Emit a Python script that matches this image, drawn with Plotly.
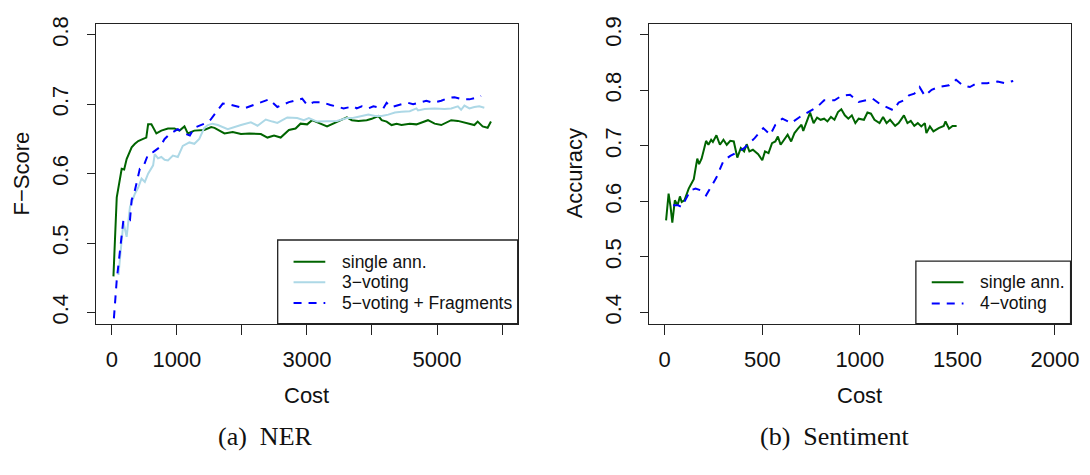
import plotly.graph_objects as go

# ---------------- data ----------------
# (a) NER: F-score against annotation cost
ner_single_cost = [25, 76, 152, 190, 228, 305, 355, 406, 482, 530, 558, 609, 685, 761, 863, 964,
                   1041, 1117, 1168, 1269, 1421, 1528, 1579, 1732, 1859, 1986, 2113, 2291, 2393,
                   2494, 2596, 2723, 2825, 2901, 3003, 3079, 3309, 3461, 3614, 3690, 3792, 3919,
                   3996, 4098, 4149, 4225, 4301, 4378, 4454, 4581, 4683, 4861, 4963, 5065, 5218,
                   5320, 5472, 5574, 5625, 5701, 5778, 5829]
ner_single_f = [0.452, 0.566, 0.607, 0.606, 0.621, 0.638, 0.643, 0.647, 0.650, 0.652, 0.671, 0.671,
                0.658, 0.662, 0.665, 0.665, 0.662, 0.668, 0.658, 0.662, 0.663, 0.667, 0.666, 0.658,
                0.660, 0.657, 0.658, 0.657, 0.652, 0.655, 0.652, 0.663, 0.665, 0.672, 0.671, 0.677,
                0.668, 0.675, 0.681, 0.677, 0.676, 0.677, 0.679, 0.683, 0.677, 0.675, 0.670, 0.672,
                0.670, 0.672, 0.671, 0.677, 0.672, 0.670, 0.677, 0.676, 0.672, 0.670, 0.675, 0.668,
                0.666, 0.675]

ner_vote3_cost = [102, 178, 228, 279, 355, 406, 457, 508, 558, 635, 660, 710, 761, 812, 863, 939,
                  1015, 1091, 1193, 1269, 1345, 1421, 1477, 1548, 1630, 1782, 1986, 2138, 2240,
                  2367, 2469, 2545, 2698, 2850, 2952, 3029, 3156, 3309, 3461, 3614, 3690, 3792,
                  3945, 4047, 4149, 4250, 4352, 4454, 4581, 4683, 4708, 4810, 4963, 5116, 5218,
                  5320, 5370, 5421, 5498, 5574, 5650, 5727]
ner_vote3_f = [0.454, 0.530, 0.509, 0.552, 0.571, 0.580, 0.593, 0.588, 0.600, 0.612, 0.628, 0.622,
               0.624, 0.620, 0.619, 0.626, 0.624, 0.640, 0.645, 0.643, 0.650, 0.666, 0.670, 0.672,
               0.670, 0.664, 0.670, 0.674, 0.669, 0.678, 0.675, 0.673, 0.681, 0.680, 0.677, 0.680,
               0.675, 0.675, 0.676, 0.680, 0.680, 0.682, 0.685, 0.683, 0.683, 0.685, 0.688, 0.689,
               0.690, 0.694, 0.691, 0.693, 0.694, 0.693, 0.694, 0.697, 0.692, 0.698, 0.694, 0.696,
               0.697, 0.695]

ner_vote5_cost = [15, 76, 178, 279, 305, 355, 431, 482, 558, 635, 736, 812, 888, 1015, 1142, 1200,
                  1269, 1421, 1520, 1600, 1706, 1833, 2037, 2240, 2418, 2545, 2723, 2927, 3003,
                  3105, 3232, 3360, 3563, 3716, 3766, 3843, 3945, 4021, 4174, 4225, 4301, 4454,
                  4556, 4632, 4836, 4938, 5065, 5167, 5269, 5396, 5498, 5625, 5676]
ner_vote5_f = [0.370, 0.447, 0.533, 0.533, 0.562, 0.576, 0.607, 0.609, 0.628, 0.631, 0.638, 0.650,
               0.657, 0.664, 0.657, 0.655, 0.666, 0.672, 0.678, 0.688, 0.701, 0.699, 0.694, 0.701,
               0.707, 0.696, 0.703, 0.708, 0.699, 0.703, 0.703, 0.699, 0.694, 0.697, 0.694, 0.697,
               0.694, 0.697, 0.694, 0.702, 0.696, 0.700, 0.702, 0.700, 0.705, 0.702, 0.705, 0.709,
               0.710, 0.707, 0.707, 0.710, 0.712]

# (b) Sentiment: accuracy against annotation cost
sent_single_cost = [7, 20, 30, 39, 52, 66, 78, 87, 101, 110, 123, 135, 149, 162, 167, 176, 189, 203,
                    212, 224, 238, 247, 265, 283, 301, 318, 336, 354, 372, 390, 407, 420, 434, 452,
                    479, 500, 514, 532, 550, 567, 580, 594, 612, 630, 648, 665, 683, 701, 710, 728,
                    745, 763, 781, 799, 817, 834, 852, 870, 888, 905, 923, 941, 959, 977, 994, 1021,
                    1039, 1057, 1075, 1101, 1119, 1137, 1155, 1181, 1199, 1226, 1244, 1261, 1279,
                    1297, 1315, 1333, 1341, 1359, 1377, 1404, 1430, 1439, 1457, 1475, 1496]
sent_single_acc = [0.566, 0.614, 0.590, 0.562, 0.602, 0.593, 0.609, 0.599, 0.602, 0.611, 0.623,
                   0.631, 0.640, 0.667, 0.677, 0.667, 0.677, 0.696, 0.709, 0.702, 0.711, 0.707,
                   0.719, 0.702, 0.711, 0.702, 0.709, 0.708, 0.679, 0.696, 0.690, 0.703, 0.690,
                   0.693, 0.685, 0.674, 0.690, 0.687, 0.705, 0.708, 0.717, 0.702, 0.711, 0.720,
                   0.708, 0.723, 0.731, 0.738, 0.727, 0.744, 0.760, 0.741, 0.751, 0.747, 0.749,
                   0.744, 0.752, 0.747, 0.761, 0.766, 0.755, 0.749, 0.755, 0.741, 0.749, 0.747,
                   0.760, 0.758, 0.747, 0.741, 0.752, 0.741, 0.747, 0.736, 0.741, 0.755, 0.741,
                   0.745, 0.736, 0.741, 0.735, 0.741, 0.723, 0.735, 0.726, 0.732, 0.736, 0.744,
                   0.731, 0.736, 0.736]

sent_vote4_cost = [43, 69, 87, 105, 132, 158, 185, 212, 238, 265, 301, 336, 363, 407, 461, 505, 541,
                   567, 603, 648, 692, 745, 781, 817, 870, 905, 950, 994, 1030, 1066, 1101, 1137,
                   1172, 1199, 1226, 1252, 1279, 1306, 1333, 1368, 1404, 1457, 1493, 1528, 1564,
                   1599, 1653, 1706, 1742, 1786]
sent_vote4_acc = [0.593, 0.593, 0.590, 0.602, 0.620, 0.623, 0.620, 0.611, 0.628, 0.643, 0.673,
                  0.682, 0.687, 0.696, 0.714, 0.732, 0.720, 0.738, 0.749, 0.741, 0.752, 0.762,
                  0.770, 0.782, 0.782, 0.790, 0.792, 0.779, 0.782, 0.785, 0.776, 0.770, 0.764,
                  0.778, 0.782, 0.791, 0.794, 0.806, 0.790, 0.801, 0.806, 0.809, 0.819, 0.809,
                  0.806, 0.813, 0.813, 0.816, 0.813, 0.817]

ner_x_ticks = [0, 1000, 2000, 3000, 4000, 5000, 6000]
ner_x_labels = ["0", "1000", "", "3000", "", "5000", ""]
ner_y_ticks = [0.4, 0.5, 0.6, 0.7, 0.8]
sent_x_ticks = [0, 500, 1000, 1500, 2000]
sent_y_ticks = [0.4, 0.5, 0.6, 0.7, 0.8, 0.9]

ner_names = ["single ann.", "3\u2212voting", "5\u2212voting + Fragments"]
sent_names = ["single ann.", "4\u2212voting"]

# ---------------- styling ----------------
W, H = 1090, 475
GREEN, LIGHT, BLUE = "#006400", "#ADD8E6", "#0000FF"
SANS = "Liberation Sans, Arial, sans-serif"
SERIF = "Liberation Serif, Times New Roman, serif"
DASH = "8px,7px"


def fx(px):
    return px / W


def fy(py):
    return 1 - py / H


# panel boxes in pixels: (left, right, top, bottom)
BOX_A = (97, 522, 17, 322)
BOX_B = (654.5, 1079.5, 17, 322)

fig = go.Figure()

ner_series = [(ner_single_cost, ner_single_f, GREEN, "solid"),
              (ner_vote3_cost, ner_vote3_f, LIGHT, "solid"),
              (ner_vote5_cost, ner_vote5_f, BLUE, DASH)]
for (xs, ys, col, dash), name in zip(ner_series, ner_names):
    fig.add_trace(go.Scatter(x=xs, y=ys, mode="lines", name=name, showlegend=False,
                             line=dict(color=col, width=2, dash=dash),
                             xaxis="x", yaxis="y"))

sent_series = [(sent_single_cost, sent_single_acc, GREEN, "solid"),
               (sent_vote4_cost, sent_vote4_acc, BLUE, DASH)]
for (xs, ys, col, dash), name in zip(sent_series, sent_names):
    fig.add_trace(go.Scatter(x=xs, y=ys, mode="lines", name=name, showlegend=False,
                             line=dict(color=col, width=2, dash=dash),
                             xaxis="x2", yaxis="y2"))


def xaxis_cfg(box, rng, ticks, labels):
    return dict(domain=[fx(box[0]), fx(box[1])], range=rng, tickvals=ticks, ticktext=labels,
                ticks="outside", ticklen=10, tickwidth=1, tickcolor="#222",
                showline=True, mirror=True, linecolor="#222", linewidth=1.3,
                showgrid=False, zeroline=False, fixedrange=True,
                tickfont=dict(family=SANS, size=22, color="#111"), ticklabelstandoff=6)


def yaxis_cfg(box, rng, ticks):
    return dict(domain=[fy(box[3]), fy(box[2])], range=rng, tickvals=ticks,
                ticktext=[f"{t:.1f}" for t in ticks], tickangle=-90,
                ticks="outside", ticklen=8, tickwidth=1, tickcolor="#222",
                showline=True, mirror=True, linecolor="#222", linewidth=1.3,
                showgrid=False, zeroline=False, fixedrange=True,
                tickfont=dict(family=SANS, size=22, color="#111"), ticklabelstandoff=10)


fig.update_layout(
    width=W, height=H, margin=dict(l=0, r=0, t=0, b=0),
    paper_bgcolor="white", plot_bgcolor="white", showlegend=False,
    xaxis=xaxis_cfg(BOX_A, [-240, 6240], ner_x_ticks, ner_x_labels) | dict(anchor="y"),
    yaxis=yaxis_cfg(BOX_A, [0.384, 0.816], ner_y_ticks) | dict(anchor="x"),
    xaxis2=xaxis_cfg(BOX_B, [-80, 2080], sent_x_ticks, [str(t) for t in sent_x_ticks]) | dict(anchor="y2"),
    yaxis2=yaxis_cfg(BOX_B, [0.38, 0.92], sent_y_ticks) | dict(anchor="x2"),
)

annotations = []
shapes = []

# axis titles
for box, ytitle in [(BOX_A, "F\u2212Score"), (BOX_B, "Accuracy")]:
    cx = (box[0] + box[1]) / 2
    cy = (box[2] + box[3]) / 2
    annotations.append(dict(x=fx(cx), y=fy(395), xref="paper", yref="paper", text="Cost",
                            showarrow=False, xanchor="center", yanchor="middle",
                            font=dict(family=SANS, size=22, color="#111")))
    annotations.append(dict(x=fx(box[0] - 75), y=fy(cy), xref="paper", yref="paper", text=ytitle,
                            textangle=-90, showarrow=False, xanchor="center", yanchor="middle",
                            font=dict(family=SANS, size=22, color="#111")))

# sub-figure captions
for cx, caption in [(268, "(a)  NER"), (842, "(b)  Sentiment")]:
    annotations.append(dict(x=fx(cx), y=fy(437), xref="paper", yref="paper", text=caption,
                            showarrow=False, xanchor="center", yanchor="middle",
                            font=dict(family=SERIF, size=26, color="#111")))


# legends: framed box in the bottom-right corner of each panel
def add_legend(box, top, rows, entries):
    shapes.append(dict(type="rect", xref="paper", yref="paper",
                       x0=fx(top[0]), x1=fx(box[1]), y0=fy(box[3]), y1=fy(top[1]),
                       line=dict(color="#222", width=1.3), fillcolor="white"))
    for ry, (name, col, dash) in zip(rows, entries):
        shapes.append(dict(type="line", xref="paper", yref="paper",
                           x0=fx(top[0] + 16), x1=fx(top[0] + 48), y0=fy(ry), y1=fy(ry),
                           line=dict(color=col, width=2, dash=dash)))
        annotations.append(dict(x=fx(top[0] + 63), y=fy(ry), xref="paper", yref="paper",
                                text=name, showarrow=False, xanchor="left", yanchor="middle",
                                font=dict(family=SANS, size=17.5, color="#111")))


add_legend(BOX_A, (280, 237), [259, 280, 301],
           [(n, s[2], s[3]) for n, s in zip(ner_names, ner_series)])
add_legend(BOX_B, (923.5, 258.5), [280, 301.5],
           [(n, s[2], s[3]) for n, s in zip(sent_names, sent_series)])

fig.update_layout(annotations=annotations, shapes=shapes)
fig.write_html("out.html")
